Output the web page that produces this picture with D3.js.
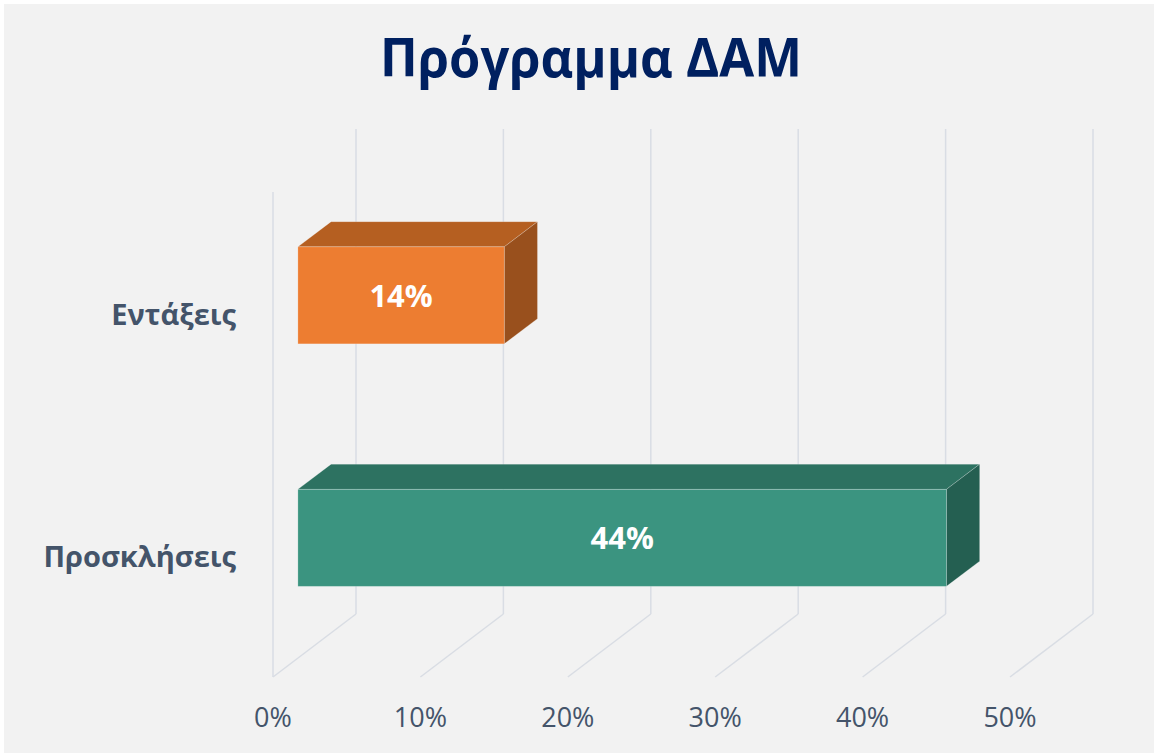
<!DOCTYPE html>
<html>
<head>
<meta charset="utf-8">
<script src="https://cdn.jsdelivr.net/npm/d3@7"></script>
<style>
  html, body { margin: 0; padding: 0; background: #ffffff; }
  svg { display: block; }
</style>
</head>
<body>
<svg id="chart" width="1154" height="753"></svg>
<script>
// ---- data ----
const title = "Πρόγραμμα ΔΑΜ";
const categories = ["Εντάξεις", "Προσκλήσεις"];
const values = [0.14, 0.44];
const valueLabels = ["14%", "44%"];
const tickValues = [0, 0.1, 0.2, 0.3, 0.4, 0.5];
const tickLabels = ["0%", "10%", "20%", "30%", "40%", "50%"];
const frontColors = ["#ED7D31", "#3B9480"];
const topColors = ["#B55F21", "#2D7261"];
const sideColors = ["#99501D", "#245F51"];

// ---- layout ----
const W = 1154, H = 753;
const DX = 83, DY = -63;          // depth vector of the 3D box
const zFront = 0.3, zBack = 0.7;  // bar depth placement
const svg = d3.select("#chart");

svg.append("rect").attr("x", 4).attr("y", 4).attr("width", W - 4).attr("height", H - 4)
  .attr("fill", "#F2F2F2");

const x = d3.scaleLinear().domain([0, 0.5]).range([273, 1010]);
const y = d3.scaleBand().domain(categories).range([193, 678]).paddingInner(0.6).paddingOuter(0.3);
const yTop = 192, yBot = 677;

const gridColor = "#D9DDE4";
const grid = svg.append("g");
// left wall edge
grid.append("line").attr("x1", x(0)).attr("x2", x(0)).attr("y1", yTop).attr("y2", yBot)
  .attr("stroke", gridColor).attr("stroke-width", 1.5);
tickValues.forEach(t => {
  const bx = x(t) + DX;
  grid.append("line").attr("x1", bx).attr("x2", bx).attr("y1", yTop + DY).attr("y2", yBot + DY)
    .attr("stroke", gridColor).attr("stroke-width", 1.5);
  grid.append("line").attr("x1", bx).attr("x2", x(t)).attr("y1", yBot + DY).attr("y2", yBot)
    .attr("stroke", gridColor).attr("stroke-width", 1.5);
});

// tick labels
svg.append("g").selectAll("text").data(tickValues).join("text")
  .attr("x", d => x(d)).attr("y", 727)
  .attr("text-anchor", "middle")
  .attr("font-family", "'Open Sans', sans-serif").attr("font-size", 27)
  .attr("fill", "#44546A")
  .text((d, i) => tickLabels[i]);

// bars
const bars = svg.append("g");
categories.forEach((c, i) => {
  const v = values[i];
  const y0 = y(c), y1 = y(c) + y.bandwidth();
  const fx0 = x(0) + zFront * DX, fx1 = x(v) + zFront * DX;
  const fy0 = y0 + zFront * DY, fy1 = y1 + zFront * DY;
  const bx0 = x(0) + zBack * DX, bx1 = x(v) + zBack * DX;
  const by0 = y0 + zBack * DY, by1 = y1 + zBack * DY;
  const edge = "rgba(255,255,255,0.25)";
  bars.append("polygon")
    .attr("points", [[fx0, fy0], [fx1, fy0], [bx1, by0], [bx0, by0]].map(p => p.join(",")).join(" "))
    .attr("fill", topColors[i]).attr("stroke", edge).attr("stroke-width", 0.8);
  bars.append("polygon")
    .attr("points", [[fx1, fy0], [bx1, by0], [bx1, by1], [fx1, fy1]].map(p => p.join(",")).join(" "))
    .attr("fill", sideColors[i]).attr("stroke", edge).attr("stroke-width", 0.8);
  bars.append("rect")
    .attr("x", fx0).attr("y", fy0).attr("width", fx1 - fx0).attr("height", fy1 - fy0)
    .attr("fill", frontColors[i]).attr("stroke", edge).attr("stroke-width", 0.8);
  bars.append("text")
    .attr("x", (fx0 + fx1) / 2).attr("y", (fy0 + fy1) / 2)
    .attr("dy", "0.36em")
    .attr("text-anchor", "middle")
    .attr("font-family", "'Open Sans', sans-serif").attr("font-size", 31).attr("font-weight", 700)
    .attr("fill", "#FFFFFF")
    .text(valueLabels[i]);
});

// category labels
svg.append("g").selectAll("text").data(categories).join("text")
  .attr("x", 236).attr("y", d => y(d) + y.bandwidth() / 2)
  .attr("dy", "0.36em")
  .attr("text-anchor", "end")
  .attr("font-family", "'Open Sans', sans-serif").attr("font-size", 29).attr("font-weight", 700)
  .attr("fill", "#44546A")
  .text(d => d);

// title
svg.append("text")
  .attr("x", 591).attr("y", 77)
  .attr("text-anchor", "middle")
  .attr("font-family", "'Open Sans', sans-serif").attr("font-size", 54).attr("font-weight", 700)
  .attr("fill", "#002060")
  .attr("textLength", 422).attr("lengthAdjust", "spacingAndGlyphs")
  .text(title);
</script>
</body>
</html>
